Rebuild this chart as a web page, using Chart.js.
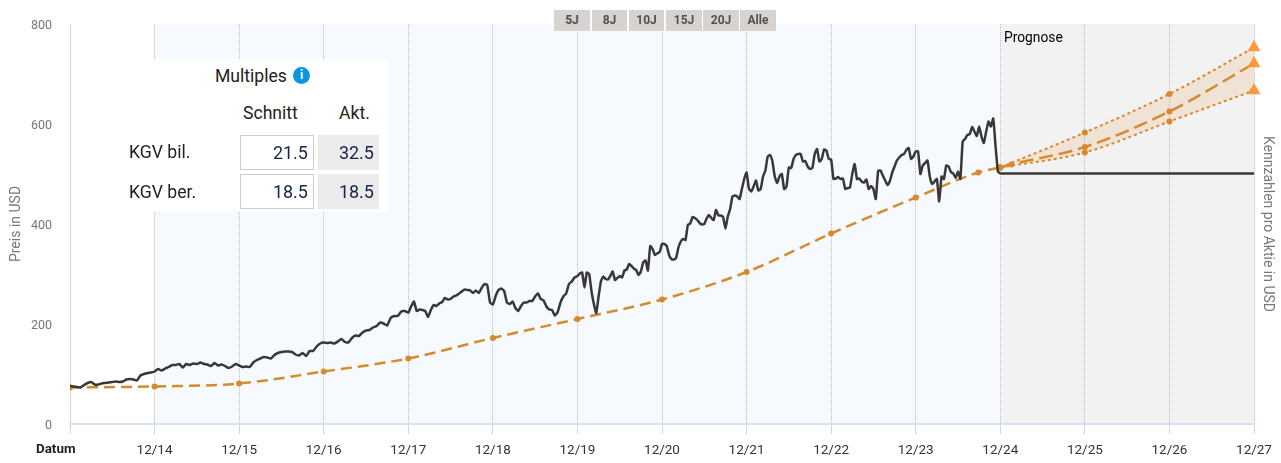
<!DOCTYPE html>
<html>
<head>
<meta charset="utf-8">
<script src="https://cdn.jsdelivr.net/npm/chart.js@4"></script>
<style>
  body { margin: 0; background: #fff; font-family: Roboto, sans-serif; }
  #wrap { position: relative; width: 1281px; height: 463px; overflow: hidden; }
  #wrap div { position: absolute; white-space: nowrap; }
  .btn { top: 10px; height: 21px; line-height: 21px; background: #d6d3d0; color: #55504c; font-size: 12px; font-weight: 700; text-align: center; }
  .lbl { font-size: 17.6px; color: #222; line-height: 20px; }
  .cell { width: 67px; height: 33px; line-height: 33px; font-size: 18px; color: #14244a; text-align: right; padding-right: 5px; }
  .cell.avg { background: #fff; border: 1px solid #ccc; }
  .cell.cur { background: #ebebeb; width: 56px; height: 35px; line-height: 35px; }
</style>
</head>
<body>
<div id="wrap">
  <canvas id="chartCanvas" width="1281" height="463"></canvas>
  <div class="btn" style="left:554px;width:36px">5J</div>
  <div class="btn" style="left:592px;width:35px">8J</div>
  <div class="btn" style="left:629px;width:35px">10J</div>
  <div class="btn" style="left:666px;width:36px">15J</div>
  <div class="btn" style="left:703px;width:36px">20J</div>
  <div class="btn" style="left:740px;width:36px">Alle</div>
  <div style="left:1004px;top:29px;font-size:13.8px;line-height:16px;color:#000">Prognose</div>
  <div style="left:36px;top:441px;font-size:13.4px;line-height:16px;font-weight:700;color:#222">Datum</div>
  <div style="left:153px;top:59px;width:235px;height:153px;background:#fff"></div>
  <div class="lbl" style="left:215px;top:66px">Multiples</div>
  <div style="left:293px;top:67px;width:17px;height:17px;border-radius:50%;background:#0b96dd;color:#fff;font:700 12px/17px Roboto;text-align:center">i</div>
  <div class="lbl" style="left:243px;top:103px">Schnitt</div>
  <div class="lbl" style="left:339px;top:103px">Akt.</div>
  <div class="lbl" style="left:129px;top:142px">KGV bil.</div>
  <div class="lbl" style="left:129px;top:182px">KGV ber.</div>
  <div class="cell avg" style="left:240px;top:135px">21.5</div>
  <div class="cell cur" style="left:318px;top:135px">32.5</div>
  <div class="cell avg" style="left:240px;top:174px">18.5</div>
  <div class="cell cur" style="left:318px;top:174px">18.5</div>
</div>
<script>
const tickLabels = ['', '12/14', '12/15', '12/16', '12/17', '12/18', '12/19', '12/20', '12/21', '12/22', '12/23', '12/24', '12/25', '12/26', '12/27'];

// Kurs, one list per year, readings evenly spread over that year
const price14 = [76, 75, 74, 73, 78, 82, 84, 79, 79, 81, 82, 83, 84, 85, 84, 85, 89, 90, 89, 87, 97, 100, 102, 103];
const price15 = [105, 110, 107, 111, 114, 118, 118, 120, 113, 120, 118, 121, 120, 123, 120, 119, 116, 122, 117, 119, 116, 112, 115, 120];
const price16 = [117, 114, 115, 114, 123, 128, 131, 134, 133, 131, 138, 142, 144, 145, 145, 144, 139, 137, 142, 136, 146, 146, 155, 161];
const price17 = [163, 162, 163, 161, 165, 170, 164, 163, 172, 177, 176, 183, 187, 188, 193, 196, 203, 201, 197, 212, 216, 216, 225, 226];
const price18 = [223, 235, 245, 226, 229, 228, 226, 214, 228, 238, 236, 241, 244, 252, 249, 250, 255, 257, 261, 265, 269, 268, 267, 262, 267, 262, 272, 280, 278, 243];
const price19 = [239, 256, 268, 271, 266, 243, 240, 245, 232, 226, 236, 243, 243, 246, 246, 255, 261, 250, 247, 235, 229, 228, 217, 224, 243, 255, 261, 280, 285, 293];
const price20 = [296, 301, 303, 273, 303, 300, 265, 240, 222, 255, 285, 295, 290, 289, 296, 305, 288, 292, 296, 293, 307, 309, 320, 316, 311, 308, 298, 305, 323, 327, 307, 356, 350, 338, 341, 344];
const price21 = [360, 360, 356, 338, 330, 329, 332, 353, 365, 370, 368, 398, 401, 414, 412, 408, 402, 399, 400, 411, 418, 412, 408, 428, 417, 417, 414, 391, 415, 430, 455, 457, 455, 450, 470, 490];
const price22 = [503, 471, 465, 475, 487, 467, 470, 495, 507, 535, 538, 525, 495, 482, 495, 500, 470, 475, 513, 512, 530, 538, 540, 540, 525, 526, 515, 510, 512, 540, 550, 525, 530, 549, 547, 530];
const price23 = [529, 490, 491, 494, 490, 491, 470, 472, 473, 500, 520, 490, 491, 485, 483, 489, 470, 476, 470, 450, 506, 507, 497, 487, 478, 486, 503, 515, 527, 533, 538, 540, 548, 552, 530, 535];
const price24 = [545, 545, 500, 517, 522, 527, 495, 480, 485, 490, 445, 495, 490, 517, 515, 504, 501, 492, 505, 490, 565, 570, 578, 580, 594, 585, 576, 595, 575, 562, 585, 605, 595, 611, 555, 505];
const priceFlat = 501;

// Kennzahlen pro Aktie
const epsYears = [13, 14, 15, 16, 17, 18, 19, 20, 21, 22, 23, 23.74, 24];
const epsValues = [73, 75, 81, 105, 131, 172, 210, 249, 304, 381, 453, 503, 513];
const forecastYears = [24, 25, 26, 27];
const forecastHigh = [513, 583, 660, 753];
const forecastLow = [513, 543, 605, 667];
const forecastMidYears = [24, 24.13, 25, 26, 27];
const forecastMid = [513, 519, 554, 625, 721];

const orange = '#d68a2c';
const triangle = '#ff9a3c';

const priceYears = [price14, price15, price16, price17, price18, price19, price20, price21, price22, price23, price24];
const pricePoints = [];
priceYears.forEach((list, y) => {
  list.forEach((v, i) => pricePoints.push({ x: 13 + y + i / list.length, y: v }));
});
pricePoints.push({ x: 24, y: priceFlat });
pricePoints.push({ x: 27, y: priceFlat });

function toPoints(xs, ys) {
  return xs.map((x, i) => ({ x: x, y: ys[i] }));
}

function forecastSet(xs, ys, dash, extra) {
  return Object.assign({
    data: toPoints(xs, ys),
    clip: false,
    borderColor: orange,
    borderWidth: 2,
    borderDash: dash,
    cubicInterpolationMode: 'monotone',
    pointStyle: ctx => ctx.dataIndex === xs.length - 1 ? 'triangle' : 'circle',
    pointRadius: ctx => ctx.dataIndex === xs.length - 1 ? 7.5 : 3,
    pointBackgroundColor: ctx => ctx.dataIndex === xs.length - 1 ? triangle : orange,
    pointBorderWidth: 0
  }, extra);
}

const bands = {
  id: 'bands',
  beforeDraw(chart) {
    const c = chart.ctx, a = chart.chartArea, x = chart.scales.x;
    c.save();
    c.fillStyle = '#f6faff';
    c.fillRect(x.getPixelForValue(14), a.top, x.getPixelForValue(24) - x.getPixelForValue(14), a.height);
    c.fillStyle = '#f2f2f2';
    c.fillRect(x.getPixelForValue(24), a.top, x.getPixelForValue(27) - x.getPixelForValue(24), a.height);
    c.restore();
  }
};

new Chart(document.getElementById('chartCanvas').getContext('2d'), {
  type: 'line',
  data: {
    datasets: [
      { data: pricePoints, borderColor: '#383838', borderWidth: 2.5, pointRadius: 0, tension: 0.15 },
      { data: toPoints(epsYears, epsValues), borderColor: orange, borderWidth: 2.5, borderDash: [11, 6], cubicInterpolationMode: 'monotone', pointRadius: 3, pointBackgroundColor: orange, pointBorderWidth: 0 },
      forecastSet(forecastYears, forecastHigh, [3, 3], { fill: { target: 3, above: 'rgba(214,138,44,0.15)', below: 'rgba(214,138,44,0.15)' } }),
      forecastSet(forecastYears, forecastLow, [3, 3], {}),
      forecastSet(forecastMidYears, forecastMid, [14, 6], { borderWidth: 2.5 })
    ]
  },
  options: {
    responsive: false,
    animation: false,
    layout: { padding: { top: 24 } },
    plugins: { legend: { display: false }, tooltip: { enabled: false } },
    scales: {
      x: {
        type: 'linear',
        min: 13,
        max: 27,
        afterFit: s => { s.height = 39; },
        afterBuildTicks: s => { s.ticks = tickLabels.map((t, i) => ({ value: 13 + i })); },
        grid: { color: '#bdbdbd', tickColor: '#ccd6eb', tickLength: 10, drawOnChartArea: true },
        border: { color: '#d8e1f0', width: 2, dash: [1, 1] },
        ticks: {
          maxRotation: 0,
          autoSkip: false,
          padding: 9,
          color: '#333',
          font: { family: 'Roboto', size: 13.5 },
          callback: (v, i) => tickLabels[i]
        }
      },
      y: {
        min: 0,
        max: 800,
        afterFit: s => { s.width = 70; },
        grid: { display: false },
        border: { display: false },
        ticks: { stepSize: 200, padding: 10, labelOffset: 2, color: '#777', font: { family: 'Roboto', size: 12.5 } },
        title: { display: true, text: 'Preis in USD', color: '#777', font: { family: 'Roboto', size: 14 }, padding: { top: 8, bottom: 0 } }
      },
      y2: {
        position: 'right',
        min: 0,
        max: 800,
        afterFit: s => { s.width = 27; },
        grid: { display: false },
        border: { display: false },
        ticks: { display: false },
        title: { display: true, text: 'Kennzahlen pro Aktie in USD', color: '#777', font: { family: 'Roboto', size: 14 }, padding: { top: 5, bottom: 0 } }
      }
    }
  },
  plugins: [bands]
});
</script>
</body>
</html>
